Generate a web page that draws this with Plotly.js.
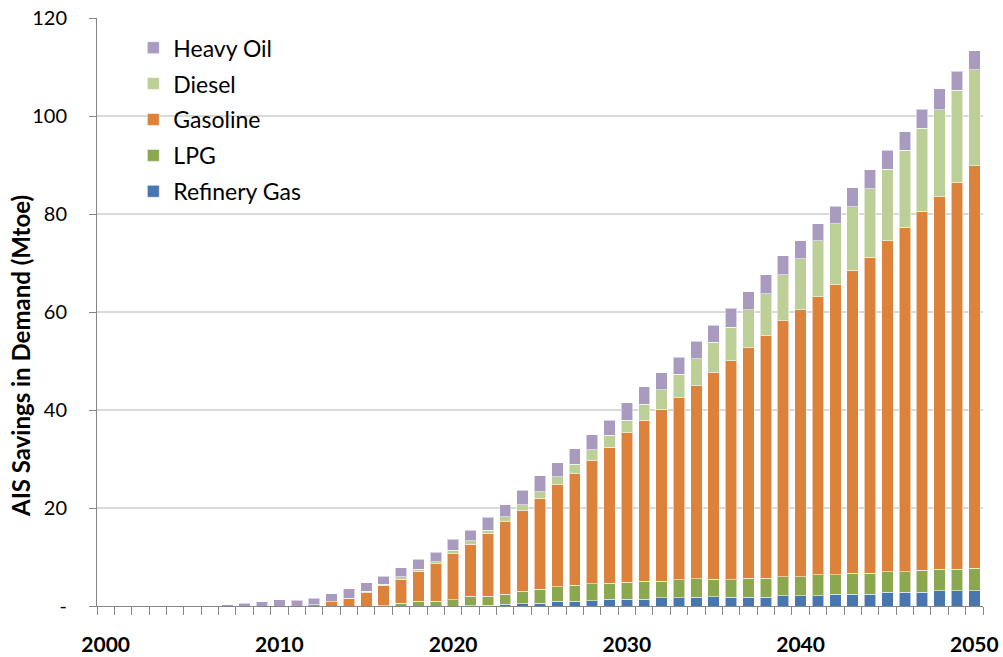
<!DOCTYPE html>
<html><head><meta charset="utf-8">
<script src="https://cdn.plot.ly/plotly-3.0.1.min.js"></script>
<style>html,body{margin:0;padding:0;background:#fff}#chart{width:1003px;height:657px}</style>
</head><body><div id="chart"></div>
<script>
const years = [2000,2001,2002,2003,2004,2005,2006,2007,2008,2009,2010,2011,2012,2013,2014,2015,2016,2017,2018,2019,2020,2021,2022,2023,2024,2025,2026,2027,2028,2029,2030,2031,2032,2033,2034,2035,2036,2037,2038,2039,2040,2041,2042,2043,2044,2045,2046,2047,2048,2049,2050];

const refineryGas = [0,0,0,0,0,0,0,0,0,0,0,0,0,0,0,0,0,0,0,0,0,
  0.1,0.2,0.4,0.5,0.6,1.0,1.0,1.1,1.4,1.4,1.4,1.7,1.7,1.8,1.9,1.8,1.8,1.8,2.1,2.1,2.1,2.4,2.4,2.4,2.8,2.8,2.8,3.1,3.1,3.1];
const lpg = [0,0,0,0,0,0,0,0,0,0,0,0,0.3,0,0,0,
  0.1,0.6,1.0,1.0,1.3,1.9,1.8,2.0,2.5,2.8,2.9,3.2,3.4,3.2,3.4,3.7,3.4,3.7,3.8,3.6,3.6,3.9,3.9,3.9,3.9,4.3,4.0,4.3,4.3,4.2,4.2,4.5,4.4,4.4,4.6];
const gasoline = [0,0,0,0,0,0,0,0,0,0,0,0,0,
  0.9,1.6,2.7,4.1,4.9,6.1,7.6,9.4,10.6,12.8,14.8,16.4,18.6,20.8,22.8,25.1,27.8,30.6,32.8,35.1,37.1,39.4,42.1,44.7,47.0,49.5,52.2,54.5,56.7,59.2,61.8,64.5,67.5,70.3,73.3,76.0,79.0,82.1];
const diesel = [0,0,0,0,0,0,0,0,0,0,0,0,0,0,0,
  0.3,0.2,0.5,0.4,0.4,0.7,0.7,0.7,1.0,1.3,1.3,1.7,1.9,2.3,2.4,2.5,3.3,3.9,4.8,5.5,6.2,6.8,7.8,8.5,9.4,10.4,11.4,12.4,13.0,14.0,14.6,15.7,16.9,17.8,18.8,19.6];
const heavyOil = [0,0,0,0,0,0,0,
  0.3,0.6,0.9,1.3,1.2,1.3,1.6,1.9,1.7,1.7,1.8,2.0,2.0,2.2,2.2,2.6,2.5,2.9,3.3,2.8,3.2,3.1,3.1,3.6,3.5,3.5,3.5,3.5,3.5,3.9,3.6,3.9,3.9,3.6,3.5,3.6,3.9,3.8,3.9,3.8,3.9,4.3,3.8,3.9];

const yTickVals = [0,20,40,60,80,100,120];
const yTickText = ['-','20','40','60','80','100','120'];
const xTickVals = [2000,2010,2020,2030,2040,2050];

const series = [
  {name:'Refinery Gas', y: refineryGas, color:'#4877B0', rank:5},
  {name:'LPG', y: lpg, color:'#8CA84E', rank:4},
  {name:'Gasoline', y: gasoline, color:'#DD823B', rank:3},
  {name:'Diesel', y: diesel, color:'#BBCF97', rank:2},
  {name:'Heavy Oil', y: heavyOil, color:'#A99BBF', rank:1}
];

const data = series.map(s => ({
  type:'bar', x: years, y: s.y, name: s.name, legendgroup: s.name, legendrank: s.rank,
  marker:{color: s.color, line:{color:'rgba(255,255,255,0.55)', width:1}},
  hoverinfo:'x+y+name'
}));

const layout = {
  width:1003, height:657,
  margin:{l:97, r:20, t:18, b:51, pad:0},
  paper_bgcolor:'#fff', plot_bgcolor:'#fff',
  barmode:'stack', bargap:0.34,
  font:{family:'Lato, sans-serif', color:'#000'},
  showlegend:true,
  legend:{x:0.041, y:0.986, xanchor:'left', yanchor:'top', bgcolor:'rgba(0,0,0,0)',
    font:{family:'Lato, sans-serif', size:23, color:'#000'},
    traceorder:'grouped', tracegroupgap:3},
  xaxis:{
    type:'linear', range:[1999.5,2050.5], fixedrange:true,
    tickmode:'array', tickvals: xTickVals, ticks:'', ticklabelstandoff:20,
    tickfont:{family:'Lato, sans-serif', size:21, color:'#000', weight:'bold'},
    showgrid:false, zeroline:false,
    showline:true, linecolor:'#868686', linewidth:1,
    minor:{tickmode:'linear', tick0:1999.5, dtick:1, ticks:'outside', ticklen:8, tickcolor:'#868686', tickwidth:1, showgrid:false}
  },
  yaxis:{
    range:[0,120], fixedrange:true,
    tickmode:'array', tickvals: yTickVals, ticktext: yTickText,
    ticks:'outside', ticklen:7, tickcolor:'#868686', ticklabelstandoff:18,
    tickfont:{family:'Lato, sans-serif', size:20, color:'#000'},
    showgrid:true, gridcolor:'#D9D9D9', gridwidth:1.5,
    zeroline:false, showline:true, linecolor:'#868686', linewidth:1
  },
  annotations:[{
    text:'AIS Savings in Demand (Mtoe)', textangle:-90,
    xref:'paper', yref:'paper', x:-0.087, y:0.425, xanchor:'center', yanchor:'middle',
    showarrow:false, font:{family:'Lato, sans-serif', size:24, color:'#000', weight:'bold'}
  }]
};

Plotly.newPlot('chart', data, layout, {displayModeBar:false, staticPlot:true});
</script>
</body></html>
